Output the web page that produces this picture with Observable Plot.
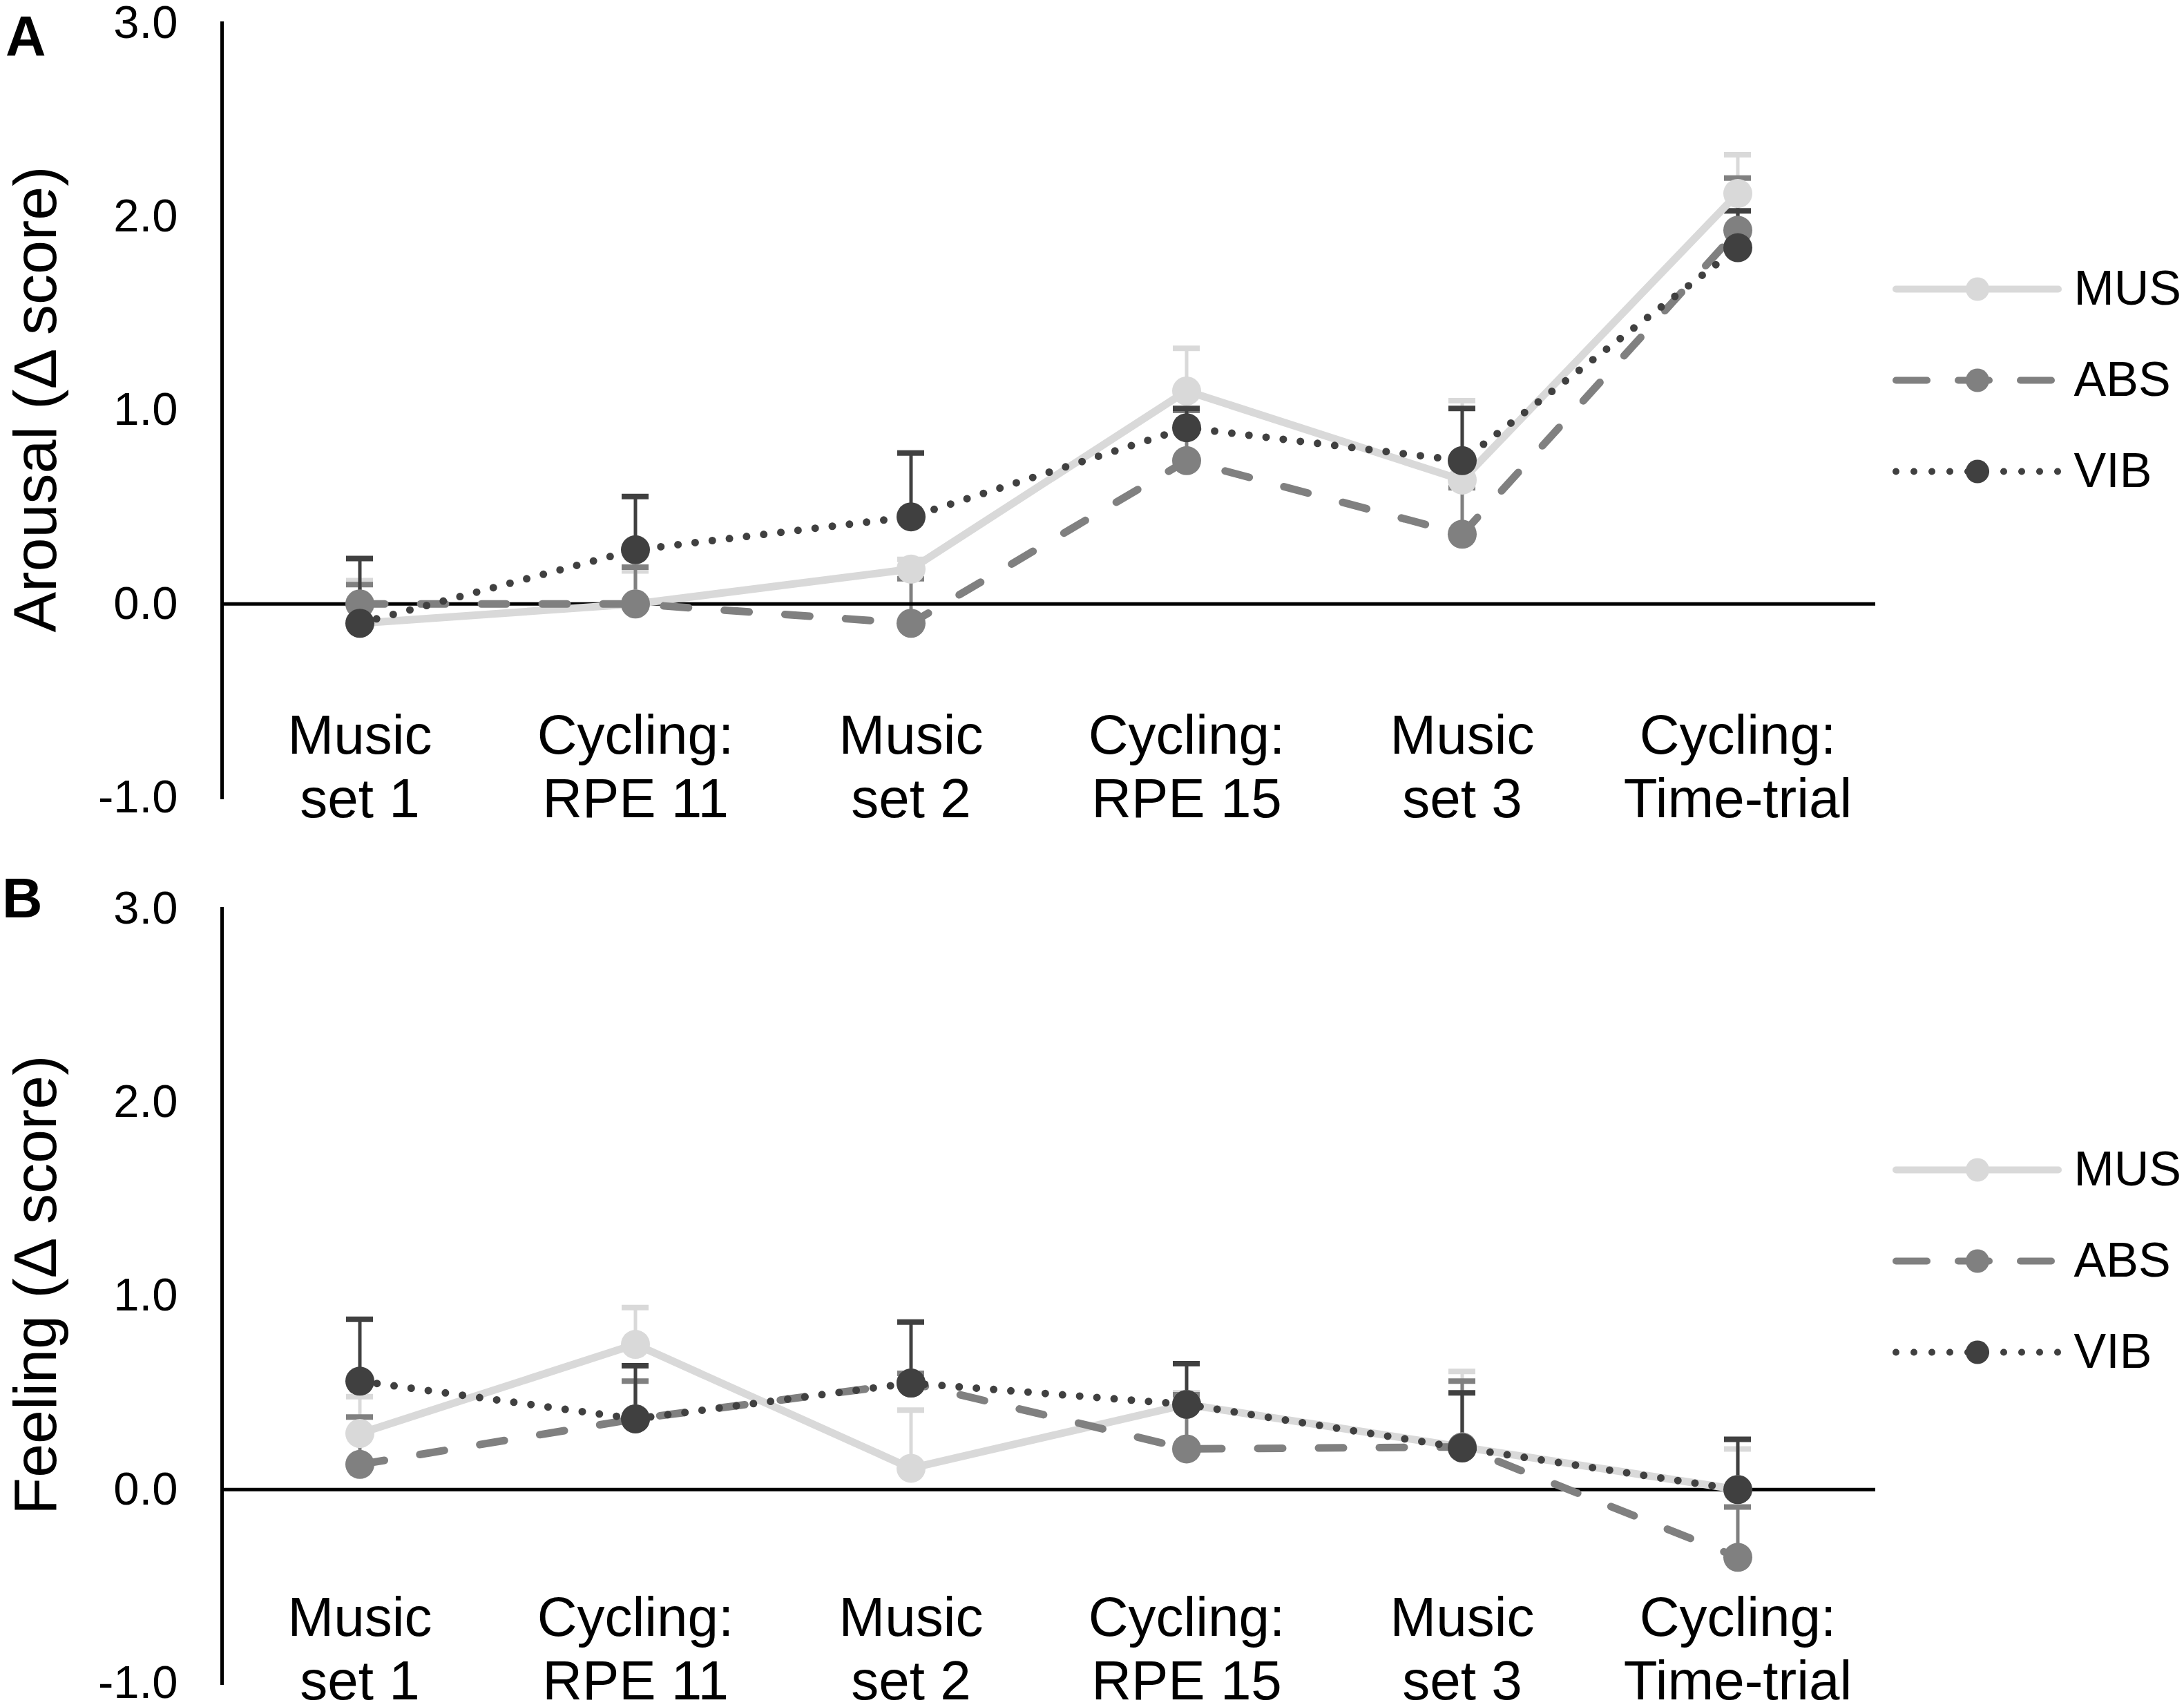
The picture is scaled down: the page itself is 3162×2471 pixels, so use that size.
<!DOCTYPE html>
<html>
<head>
<meta charset="utf-8">
<script src="https://cdn.jsdelivr.net/npm/d3@7"></script>
<script src="https://cdn.jsdelivr.net/npm/@observablehq/plot@0.6"></script>
<style>
  html, body { margin: 0; padding: 0; background: #fff; }
  #root { position: relative; width: 3162px; height: 2471px; overflow: hidden; background: #fff;
          font-family: "Liberation Sans", Arial, sans-serif; color: #000; }
  .abs { position: absolute; }
  .plabel { position: absolute; font-weight: bold; font-size: 81px; line-height: 92px; }
</style>
</head>
<body>
<div id="root"></div>
<script>
// ---------- data ----------
const categories = ["Music\nset 1", "Cycling:\nRPE 11", "Music\nset 2", "Cycling:\nRPE 15", "Music\nset 3", "Cycling:\nTime-trial"];
const seriesNames = ["MUS", "ABS", "VIB"];
const seriesColors = ["#d9d9d9", "#808080", "#404040"];
const yTicks = [-1, 0, 1, 2, 3];

// Panel A: Arousal (Δ score) — means and upper error-bar ends
const arousalMUS      = [-0.10, 0.00, 0.18, 1.10, 0.64, 2.12];
const arousalMUSUpper = [ 0.12, 0.17, 0.23, 1.32, 1.05, 2.32];
const arousalABS      = [ 0.00, 0.00, -0.10, 0.74, 0.36, 1.93];
const arousalABSUpper = [ 0.10, 0.19, 0.13, 1.00, 0.60, 2.20];
const arousalVIB      = [-0.10, 0.28, 0.45, 0.91, 0.74, 1.84];
const arousalVIBUpper = [ 0.235, 0.555, 0.78, 1.01, 1.01, 2.03];

// Panel B: Feeling (Δ score)
const feelingMUS      = [0.29, 0.75, 0.11, 0.44, 0.22, 0.00];
const feelingMUSUpper = [0.48, 0.94, 0.41, 0.50, 0.61, 0.21];
const feelingABS      = [0.13, 0.365, 0.55, 0.21, 0.22, -0.35];
const feelingABSUpper = [0.375, 0.56, 0.60, 0.49, 0.56, -0.09];
const feelingVIB      = [0.56, 0.365, 0.55, 0.44, 0.215, 0.00];
const feelingVIBUpper = [0.88, 0.64, 0.865, 0.65, 0.50, 0.26];

// ---------- styles ----------
const dashes = {MUS: null, ABS: "36,52", VIB: "0,25"};
const legendDashes = {MUS: null, ABS: "45,45", VIB: "0,26"};
const colorOf = Object.fromEntries(seriesNames.map((s, i) => [s, seriesColors[i]]));
const FONT = "'Liberation Sans', Arial, sans-serif";

function rows(means, uppers) {
  return categories.map((c, i) => ({cat: c, value: means[i], upper: uppers[i]}));
}

function panel(title, data, height, labelDy) {
  const marks = [];
  // error bars (upper only)
  for (const s of seriesNames) {
    marks.push(Plot.ruleX(data[s], {x: "cat", y1: "value", y2: "upper", stroke: colorOf[s], strokeWidth: 5}));
    marks.push(Plot.tickY(data[s], {x: "cat", y: "upper", stroke: colorOf[s], strokeWidth: 8, insetLeft: 180, insetRight: 180}));
  }
  marks.push(Plot.ruleY([0], {stroke: "#000", strokeWidth: 5}));
  marks.push(Plot.frame({anchor: "left", stroke: "#000", strokeWidth: 5}));
  for (const s of seriesNames) {
    const opts = {x: "cat", y: "value", stroke: colorOf[s], strokeWidth: 11, strokeLinecap: "round", strokeLinejoin: "round"};
    if (dashes[s]) opts.strokeDasharray = dashes[s];
    marks.push(Plot.line(data[s], opts));
    marks.push(Plot.dot(data[s], {x: "cat", y: "value", r: 21, fill: colorOf[s], stroke: null}));
  }
  marks.push(Plot.axisY({ticks: yTicks, tickFormat: d => d.toFixed(1), tickSize: 0, tickPadding: 64, fontSize: 67, label: null}));
  marks.push(Plot.axisX({tickSize: 0, tickPadding: 0, dy: labelDy, fontSize: 80, lineHeight: 1.15, label: null, tickFormat: d => d}));
  marks.push(Plot.text([title], {frameAnchor: "left", textAnchor: "middle", lineAnchor: "middle", dx: -269, dy: -16, rotate: -90, fontSize: 88, text: d => d}));
  return Plot.plot({
    width: 3162,
    height,
    marginTop: 33,
    marginBottom: height - 1154,
    marginLeft: 321,
    marginRight: 447,
    style: {fontFamily: FONT, color: "#000", background: "transparent", overflow: "visible"},
    x: {type: "band", domain: categories, padding: 0},
    y: {domain: [-1, 3]},
    marks
  });
}

function legend() {
  const marks = [];
  for (const s of seriesNames) {
    const o = {x1: 0, x2: 1, y: d => d, stroke: colorOf[s], strokeWidth: 10, strokeLinecap: "round"};
    if (legendDashes[s]) o.strokeDasharray = legendDashes[s];
    marks.push(Plot.ruleY([s], o));
    marks.push(Plot.dot([s], {x: 0.5, y: d => d, r: 17, fill: colorOf[s], stroke: null}));
    marks.push(Plot.text([s], {x: 1, y: d => d, text: d => d, dx: 22, textAnchor: "start", fontSize: 70, fill: "#000"}));
  }
  return Plot.plot({
    width: 462,
    height: 420,
    style: {fontFamily: FONT, color: "#000", background: "transparent", overflow: "visible"},
    x: {domain: [0, 1], range: [45, 280], axis: null},
    y: {type: "point", domain: seriesNames, range: [117, 382], padding: 0, axis: null},
    marks
  });
}

const root = document.getElementById("root");
function place(node, left, top) {
  const d = document.createElement("div");
  d.className = "abs";
  d.style.left = left + "px";
  d.style.top = top + "px";
  d.appendChild(node);
  root.appendChild(d);
}

const dataA = {MUS: rows(arousalMUS, arousalMUSUpper), ABS: rows(arousalABS, arousalABSUpper), VIB: rows(arousalVIB, arousalVIBUpper)};
const dataB = {MUS: rows(feelingMUS, feelingMUSUpper), ABS: rows(feelingABS, feelingABSUpper), VIB: rows(feelingVIB, feelingVIBUpper)};

place(panel("Arousal (Δ score)", dataA, 1282, -129), 0, 0);
place(panel("Feeling (Δ score)", dataB, 1189, -134), 0, 1282);
place(legend(), 2700, 300);
place(legend(), 2700, 1575);

const la = document.createElement("div");
la.className = "plabel"; la.textContent = "A"; la.style.left = "8px"; la.style.top = "6px";
root.appendChild(la);
const lb = document.createElement("div");
lb.className = "plabel"; lb.textContent = "B"; lb.style.left = "3px"; lb.style.top = "1254px";
root.appendChild(lb);
</script>
</body>
</html>
